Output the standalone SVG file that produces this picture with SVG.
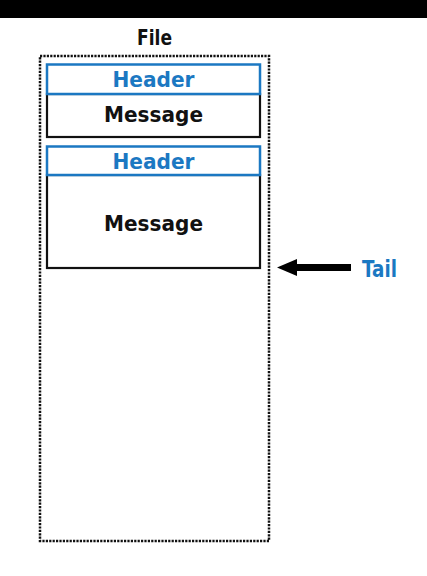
<svg xmlns="http://www.w3.org/2000/svg" width="427" height="576" viewBox="0 0 427 576">
<style>
.t{font-family:"DejaVu Sans","Liberation Sans",sans-serif;font-weight:bold;text-anchor:middle}
.blue{fill:#1b78c2}
.blk{fill:#111}
.hdr{fill:#fff;stroke:#1b78c2;stroke-width:2.5}
.msg{fill:#fff;stroke:#111;stroke-width:2.2}
</style>
<rect x="0" y="0" width="427" height="576" fill="#fff"/>
<rect x="0" y="0" width="427" height="18" fill="#000"/>
<g id="file">
<rect x="40" y="56" width="229" height="485" fill="none" stroke="#111" stroke-width="2.5" stroke-dasharray="2.2 1.2"/>
<text class="t blk" x="154.5" y="45" font-size="22" textLength="35" lengthAdjust="spacingAndGlyphs">File</text>
</g>
<g id="message1">
<rect class="msg" x="47" y="94" width="213" height="43"/>
<text class="t blk" x="153.5" y="122" font-size="22" textLength="99" lengthAdjust="spacingAndGlyphs">Message</text>
</g>
<g id="header1">
<rect class="hdr" x="47" y="64.5" width="213" height="29.5"/>
<text class="t blue" x="153.5" y="87" font-size="22" textLength="82" lengthAdjust="spacingAndGlyphs">Header</text>
</g>
<g id="message2">
<rect class="msg" x="47" y="175" width="213" height="93"/>
<text class="t blk" x="153.5" y="231" font-size="22" textLength="99" lengthAdjust="spacingAndGlyphs">Message</text>
</g>
<g id="header2">
<rect class="hdr" x="47" y="146.5" width="213" height="28.5"/>
<text class="t blue" x="153.5" y="169" font-size="22" textLength="82" lengthAdjust="spacingAndGlyphs">Header</text>
</g>
<g id="tail">
<text class="t blue" x="379.5" y="277" font-size="23" textLength="35" lengthAdjust="spacingAndGlyphs">Tail</text>
</g>
<g id="connectors">
<line x1="351" y1="267.5" x2="294" y2="267.5" stroke="#000" stroke-width="7"/>
<polygon points="277,267.5 297,259 297,276" fill="#000"/>
</g>
</svg>
